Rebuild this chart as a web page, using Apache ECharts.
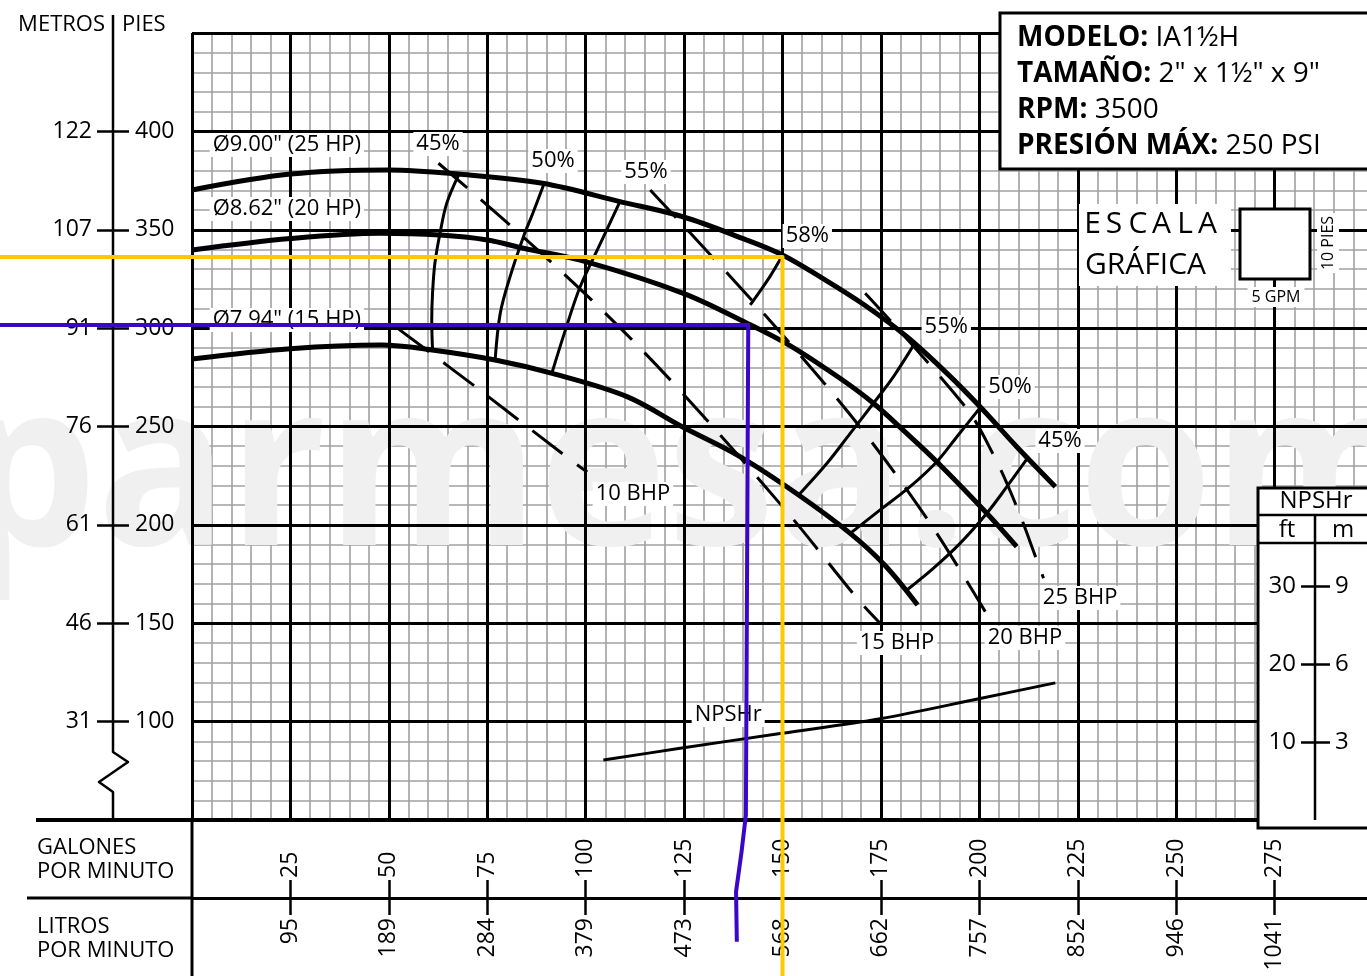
<!DOCTYPE html>
<html>
<head>
<meta charset="utf-8">
<title>Curva de bomba IA1½H</title>
<script src="https://cdn.jsdelivr.net/npm/echarts@6/dist/echarts.min.js"></script>
<style>
  html, body { margin: 0; padding: 0; background: #fff; }
  #chart { width: 1367px; height: 976px; }
</style>
</head>
<body>
<div id="chart"></div>
<script>
// ---- Axis tick labels ----
const gpmTicks = [25, 50, 75, 100, 125, 150, 175, 200, 225, 250, 275];
const lpmTicks = ['95', '189', '284', '379', '473', '568', '662', '757', '852', '946', '1041'];
const headTicksFt = [100, 150, 200, 250, 300, 350, 400];
const headTicksM = ['31', '46', '61', '76', '91', '107', '122'];
const npshTicksFt = [10, 20, 30];
const npshTicksM = ['3', '6', '9'];

// ---- Impeller head curves: [GPM, ft] ----
const head900 = [[0, 370.2], [25, 378.3], [50, 380.4], [67.6, 378.3], [89, 373.6], [108.7, 364.3], [124.7, 356.6], [140, 345.5], [150, 337.2], [160, 325.5], [171, 311.5], [181.6, 295.6], [191.8, 277], [200.2, 260], [209.5, 239.7], [219.3, 219.4]];
const head862 = [[0, 339.7], [25, 345.5], [47.8, 348.2], [63, 347.3], [75, 344.8], [84.2, 340.6], [100, 333.8], [124.8, 317.7], [141, 302.5], [152, 291], [164.6, 274.5], [173.1, 261.8], [181, 247.5], [189.2, 232.1], [201.9, 205.9], [209.5, 188.9]];
const head794 = [[0, 284.3], [25, 289.5], [48, 291.4], [61, 288.9], [77, 283.8], [91.5, 277], [110.5, 265.2], [124.4, 250], [139.2, 234.7], [154.1, 215.2], [167.2, 195.7], [176, 179.5], [184.3, 159.3]];

// ---- Iso-efficiency curves: [GPM, ft] ----
const eff45a = [[67.7, 377.8], [64.7, 363.4], [63, 348.2], [61.7, 333], [61.1, 317.7], [60.9, 304.1], [61.1, 288.9]];
const eff50a = [[89.3, 372.7], [86.5, 358], [84.2, 346.5], [80.8, 326.2], [78.3, 307.5], [77, 283.8]];
const eff55a = [[108.7, 364.3], [103.5, 342], [98.6, 321], [95, 300], [91.4, 277]];
const eff58 = [[149.8, 336.3], [146.8, 326.2], [143.9, 317.7], [141.8, 311.8]];
const eff55b = [[183.5, 292], [178.2, 275.4], [173.1, 261.8], [167.2, 246.5], [161.3, 231.3], [154.1, 215.2]];
const eff50b = [[200.2, 259.5], [194.3, 244.8], [189.2, 232.1], [182.4, 219.4], [174.8, 207.6], [167.2, 195.7]];
const eff45b = [[212.1, 233.5], [207, 219.4], [201.9, 205.9], [195.1, 190.6], [188.3, 177.9], [181.6, 166.9]];

// ---- Brake horsepower lines: [GPM, ft] ----
const bhp10 = [[52.5, 299.5], [72.4, 269.6], [95.5, 234], [100.4, 226.9]];
const bhp15 = [[62.6, 383.8], [81.2, 351.6], [102.4, 312.6], [122.7, 271.1], [151.1, 206.7], [169.3, 161.8], [174.8, 150]];
const bhp20 = [[116.4, 370.2], [132.9, 334.6], [151.9, 292.3], [170.6, 247.4], [187.5, 200.8], [201.5, 155.9]];
const bhp25 = [[171, 317.7], [196.4, 260.1], [203.6, 235.5], [209.5, 209.2], [214.6, 182.1], [216.3, 172.9]];

// ---- NPSHr curve: [GPM, ft] ----
const npshr = [[104.5, 7.7], [124, 9.2], [149.4, 11.1], [174.8, 13], [200.2, 15.6], [219.3, 17.6]];

// ---- Marked duty points: [GPM, ft] ----
const dutyYellow = [150, 336.1];
const dutyPurple = [141.3, 301.6];
const purpleTail = [[140.7, 52.5], [139.6, 33.9], [138.2, 13.6], [138.4, -11.9]];

// ---- Curve captions: [text, GPM, ft] ----
const curveLabels = [
  ['Ø9.00" (25 HP)', 24.1, 393.1],
  ['Ø8.62" (20 HP)', 24.1, 360.5],
  ['Ø7.94" (15 HP)', 24.1, 304.1],
  ['45%', 62.5, 393.6],
  ['50%', 91.7, 384.9],
  ['55%', 115.3, 379.4],
  ['58%', 156.3, 346.8],
  ['55%', 191.6, 300.6],
  ['50%', 207.8, 270.1],
  ['45%', 220.5, 242.6],
  ['10 BHP', 112.0, 215.7],
  ['15 BHP', 179.1, 139.9],
  ['20 BHP', 211.6, 142.5],
  ['25 BHP', 225.6, 162.8],
  ['NPSHr', 136.2, 103.4]
];

const FONT = 'Open Sans';
const BLACK = '#000';

function curve(data, width, dashed, yAxisIndex) {
  return {
    type: 'line', data, xAxisIndex: 0, yAxisIndex: yAxisIndex || 0,
    smooth: 0.35, symbol: 'none', silent: true, z: 3,
    lineStyle: { color: BLACK, width, type: dashed ? [38, 18] : 'solid', cap: 'butt', join: 'round' }
  };
}

const xBase = { type: 'value', min: 0, max: 300, interval: 25, gridIndex: 0 };
const yHead = { type: 'value', min: 50, max: 450, interval: 50, gridIndex: 0 };
const yNpsh = { type: 'value', min: 0, max: 101, interval: 10, gridIndex: 0 };
const noLine = { show: false, onZero: false };

const option = {
  animation: false,
  backgroundColor: '#fff',
  grid: { left: 192, top: 33, right: -6, bottom: 156, containLabel: false, outerBoundsMode: 'none' },
  xAxis: [
    // fine grid (every 5 GPM)
    Object.assign({}, xBase, {
      axisLine: noLine, axisTick: { show: false }, axisLabel: { show: false },
      splitLine: { show: false }, minorTick: { show: false, splitNumber: 5 },
      minorSplitLine: { show: true, lineStyle: { color: '#a0a0a0', width: 1.6 } }, z: 0
    }),
    // major grid (every 25 GPM) and bottom frame
    Object.assign({}, xBase, {
      position: 'bottom',
      axisLine: { show: true, onZero: false, lineStyle: { color: BLACK, width: 4 } },
      axisTick: { show: false }, axisLabel: { show: false },
      splitLine: { show: true, lineStyle: { color: BLACK, width: 3 } }, z: 1
    }),
    // gallons per minute
    Object.assign({}, xBase, {
      position: 'bottom', offset: 78,
      axisLine: { show: true, onZero: false, lineStyle: { color: BLACK, width: 3 } },
      axisTick: { show: true, inside: true, length: 18, customValues: gpmTicks, lineStyle: { color: BLACK, width: 2.5 } },
      axisLabel: { show: true, inside: true, rotate: 90, margin: 20, customValues: gpmTicks, fontSize: 23, fontFamily: FONT, color: BLACK },
      splitLine: { show: false }, z: 1
    }),
    // litres per minute
    Object.assign({}, xBase, {
      position: 'bottom', offset: 78,
      axisLine: noLine,
      axisTick: { show: true, inside: false, length: 17, customValues: gpmTicks, lineStyle: { color: BLACK, width: 2.5 } },
      axisLabel: {
        show: true, inside: false, rotate: 90, margin: 20, customValues: gpmTicks,
        fontSize: 23, fontFamily: FONT, color: BLACK,
        formatter: v => lpmTicks[gpmTicks.indexOf(v)]
      },
      splitLine: { show: false }, z: 1
    })
  ],
  yAxis: [
    // fine grid (every 10 ft)
    Object.assign({}, yHead, {
      axisLine: noLine, axisTick: { show: false }, axisLabel: { show: false },
      splitLine: { show: false }, minorTick: { show: false, splitNumber: 5 },
      minorSplitLine: { show: true, lineStyle: { color: '#a0a0a0', width: 1.6 } }, z: 0
    }),
    // major grid (every 50 ft)
    Object.assign({}, yHead, {
      axisLine: noLine, axisTick: { show: false }, axisLabel: { show: false },
      splitLine: { show: true, lineStyle: { color: BLACK, width: 3 } }, z: 1
    }),
    // head in feet
    Object.assign({}, yHead, {
      position: 'left', offset: 79, axisLine: noLine,
      axisTick: { show: true, inside: true, length: 16, customValues: headTicksFt, lineStyle: { color: BLACK, width: 2.5 } },
      axisLabel: { show: true, inside: true, margin: 22, customValues: headTicksFt, fontSize: 23, fontFamily: FONT, color: BLACK },
      splitLine: { show: false }, z: 1
    }),
    // head in metres
    Object.assign({}, yHead, {
      position: 'left', offset: 79, axisLine: noLine,
      axisTick: { show: true, inside: false, length: 16, customValues: headTicksFt, lineStyle: { color: BLACK, width: 2.5 } },
      axisLabel: {
        show: true, inside: false, margin: 21, customValues: headTicksFt, fontSize: 23, fontFamily: FONT, color: BLACK,
        formatter: v => headTicksM[headTicksFt.indexOf(v)]
      },
      splitLine: { show: false }, z: 1
    }),
    // NPSHr in feet (carries the NPSHr curve)
    Object.assign({}, yNpsh, {
      position: 'right', offset: -58, axisLine: noLine,
      axisTick: { show: true, inside: true, length: 14, customValues: npshTicksFt, lineStyle: { color: BLACK, width: 2.5 } },
      axisLabel: { show: true, inside: true, margin: 19, customValues: npshTicksFt, fontSize: 24, fontFamily: FONT, color: BLACK },
      splitLine: { show: false }, z: 60
    }),
    // NPSHr in metres
    Object.assign({}, yNpsh, {
      position: 'right', offset: -58, axisLine: noLine,
      axisTick: { show: true, inside: false, length: 15, customValues: npshTicksFt, lineStyle: { color: BLACK, width: 2.5 } },
      axisLabel: {
        show: true, inside: false, margin: 20, customValues: npshTicksFt, fontSize: 24, fontFamily: FONT, color: BLACK,
        formatter: v => npshTicksM[npshTicksFt.indexOf(v)]
      },
      splitLine: { show: false }, z: 60
    })
  ],
  series: [
    curve(head900, 5), curve(head862, 5), curve(head794, 5),
    curve(eff45a, 3), curve(eff50a, 3), curve(eff55a, 3), curve(eff58, 3),
    curve(eff55b, 3), curve(eff50b, 3), curve(eff45b, 3),
    curve(bhp10, 3, true), curve(bhp15, 3, true), curve(bhp20, 3, true), curve(bhp25, 3, true),
    curve(npshr, 3, false, 4),
    {
      type: 'scatter', xAxisIndex: 0, yAxisIndex: 0, silent: true, z: 5,
      symbolSize: 0, itemStyle: { color: BLACK },
      data: curveLabels.map(l => ({ name: l[0], value: [l[1], l[2]] })),
      label: {
        show: true, position: 'inside', formatter: '{b}', color: BLACK, opacity: 1,
        textBorderWidth: 0, textShadowBlur: 0,
        fontSize: 22, fontFamily: FONT, backgroundColor: '#fff', padding: [1, 3]
      }
    }
  ],
  graphic: { elements: [] }
};

// ---- Frame, headings and side panels ----
const g = option.graphic.elements;
function txt(x, y, text, size, extra) {
  extra = extra || {};
  g.push({
    type: 'text', x, y, z: extra.z || 70, silent: true, rotation: extra.rotation || 0,
    scaleX: extra.scaleX || 1,
    style: Object.assign({ text, fontSize: size, fontFamily: FONT, fill: BLACK, align: 'left', verticalAlign: 'middle' }, extra.style || {})
  });
}
function line(points, width, color, z) {
  g.push({ type: 'polyline', z: z || 70, silent: true, shape: { points },
    style: { stroke: color || BLACK, lineWidth: width, fill: 'none', lineJoin: 'round' } });
}
function box(x, y, w, h, stroke) {
  g.push({ type: 'rect', z: 50, silent: true, shape: { x, y, width: w, height: h },
    style: { fill: '#fff', stroke: stroke ? BLACK : 'none', lineWidth: 3 } });
}

// faint site mark behind the curves (above the fine grid only)
txt(-40, 480, 'parmesa.com', 228, { z: 0.5, scaleX: 0.95, style: { fill: '#f0f0f0', fontWeight: 'bold' } });

// left head axis with break mark
line([[113, 15], [113, 752], [128, 762], [99, 782], [113, 792], [113, 820]], 2.5);
txt(105, 25, 'METROS', 22, { style: { align: 'right' } });
txt(122, 25, 'PIES', 22);

// bottom-left frame
line([[36, 820], [192, 820]], 4);
line([[27, 898], [192, 898]], 3);
line([[192, 818], [192, 976]], 3);
txt(37, 848, 'GALONES', 22);
txt(37, 872, 'POR MINUTO', 22);
txt(37, 927, 'LITROS', 22);
txt(37, 951, 'POR MINUTO', 22);

// model box
box(1000, 13, 380, 156, true);
const bold = { b: { fontWeight: 'bold', fontSize: 28, fontFamily: FONT, fill: BLACK } };
[['MODELO:', 'IA1½H', 38], ['TAMAÑO:', '2" x 1½" x 9"', 74], ['RPM:', '3500', 110], ['PRESIÓN MÁX:', '250 PSI', 146]]
  .forEach(r => txt(1017, r[2], '{b|' + r[0] + '} ' + r[1], 28, { style: { rich: bold } }));

// graphic scale legend
box(1079, 204, 152, 82, false);
['E', 'S', 'C', 'A', 'L', 'A'].forEach((ch, i) => {
  const cx = [1092.5, 1114, 1138, 1161.5, 1185, 1207.5][i];
  txt(cx, 224, ch, 30, { style: { align: 'center' } });
});
txt(1085, 265, 'GRÁFICA', 30);
box(1240, 209, 70, 70, true);
txt(1276, 297, '5 GPM', 16, { style: { align: 'center', backgroundColor: '#fff', padding: [2, 4] } });
txt(1328, 243, '10 PIES', 16, { rotation: Math.PI / 2, style: { align: 'center', backgroundColor: '#fff', padding: [3, 3] } });

// NPSHr panel
box(1258, 488, 130, 340, true);
line([[1258, 515], [1367, 515]], 2.5);
line([[1258, 543], [1367, 543]], 2.5);
line([[1315, 515], [1315, 820]], 2.5);
txt(1316, 501, 'NPSHr', 24, { style: { align: 'center' } });
txt(1287, 530, 'ft', 24, { style: { align: 'center' } });
txt(1343, 530, 'm', 24, { style: { align: 'center' } });

const chart = echarts.init(document.getElementById('chart'), null, { renderer: 'canvas' });
chart.setOption(option);

// duty-point guides run from the chart edges to the marked points
const W = chart.getWidth(), H = chart.getHeight();
const toPx = v => chart.convertToPixel({ xAxisIndex: 0, yAxisIndex: 0 }, v);
const py = toPx(dutyYellow);
line([[0, py[1]], py, [py[0], H]], 4, '#ffc800', 200);
const pp = toPx(dutyPurple);
line([[0, pp[1]], pp].concat(purpleTail.map(toPx)), 4, '#3a06c8', 201);
chart.setOption(option, true);
</script>
</body>
</html>
